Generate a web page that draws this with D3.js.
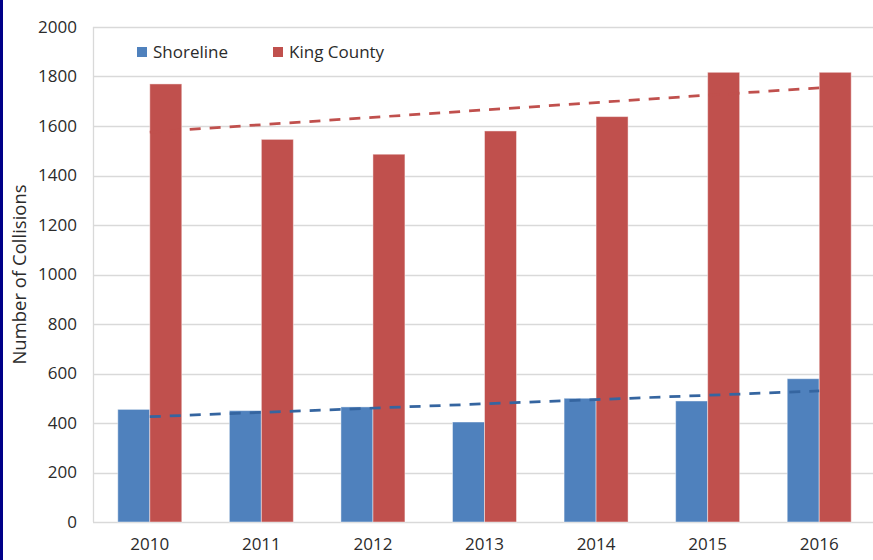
<!DOCTYPE html>
<html>
<head>
<meta charset="utf-8">
<script src="https://cdn.jsdelivr.net/npm/d3@7"></script>
<style>
  html, body { margin: 0; padding: 0; background: #fff; }
  svg { display: block; }
  text { font-family: "Open Sans", "Liberation Sans", sans-serif; fill: #2b2b2b; }
</style>
</head>
<body>
<script>
// Collision counts per year
const years = ["2010", "2011", "2012", "2013", "2014", "2015", "2016"];
const seriesNames = ["Shoreline", "King County"];
const shoreline = [455, 450, 465, 404, 500, 489, 579];
const kingCounty = [1770, 1546, 1486, 1580, 1638, 1817, 1817];
const yTicks = [0, 200, 400, 600, 800, 1000, 1200, 1400, 1600, 1800, 2000];
const colors = ["#4f81bd", "#c0504d"];
const trendColors = ["#3565a0", "#c0504d"];

const W = 873, H = 560;
const margin = { left: 94, right: -2, top: 27, bottom: 38 };

const svg = d3.select("body").append("svg")
  .attr("width", W).attr("height", H);

svg.append("rect").attr("width", W).attr("height", H).attr("fill", "#fff");
// navy frame strip on the left edge
svg.append("rect").attr("x", 0).attr("y", 0).attr("width", 3).attr("height", H).attr("fill", "#000088");

const x = d3.scaleBand()
  .domain(years)
  .range([margin.left, W - margin.right])
  .paddingInner(0.4264)
  .paddingOuter(0.2132);

const xs = d3.scaleBand().domain(seriesNames).range([0, x.bandwidth()]);

const y = d3.scaleLinear().domain([0, 2000]).range([H - margin.bottom, margin.top]);

// gridlines
svg.append("g")
  .selectAll("line")
  .data(yTicks)
  .join("line")
  .attr("x1", margin.left - 1)
  .attr("x2", W)
  .attr("y1", d => Math.round(y(d)) + 0.5)
  .attr("y2", d => Math.round(y(d)) + 0.5)
  .attr("stroke", "#d9d9d9")
  .attr("stroke-width", 1.3);

// value axis line
svg.append("line")
  .attr("x1", margin.left - 0.5).attr("x2", margin.left - 0.5)
  .attr("y1", y(2000)).attr("y2", y(0))
  .attr("stroke", "#d9d9d9").attr("stroke-width", 1.3);

// y axis labels
const yAxis = d3.axisLeft(y).tickValues(yTicks).tickFormat(d3.format("d"))
  .tickSize(0).tickPadding(17);
const gy = svg.append("g").attr("transform", `translate(${margin.left},0)`).call(yAxis);
gy.select(".domain").remove();
gy.selectAll("text").attr("font-size", 17).attr("fill", "#2b2b2b")
  .style("font-family", '"Open Sans", sans-serif');

// x axis labels
const xAxis = d3.axisBottom(x).tickSize(0).tickPadding(16);
const gx = svg.append("g").attr("transform", `translate(0,${y(0)})`).call(xAxis);
gx.select(".domain").remove();
gx.selectAll("text").attr("font-size", 17).attr("fill", "#2b2b2b")
  .style("font-family", '"Open Sans", sans-serif');

// bars
const data = [shoreline, kingCounty];
data.forEach((vals, si) => {
  svg.append("g")
    .selectAll("rect")
    .data(vals.map((v, i) => ({ year: years[i], v })))
    .join("rect")
    .attr("x", d => x(d.year) + xs(seriesNames[si]))
    .attr("y", d => y(d.v))
    .attr("width", xs.bandwidth())
    .attr("height", d => y(0) - y(d.v))
    .attr("fill", colors[si])
    .attr("stroke", "#fff")
    .attr("stroke-opacity", 0.45)
    .attr("stroke-width", 1);
});

// linear trendlines (least squares over category index)
function linearFit(vals) {
  const n = vals.length;
  const xsIdx = vals.map((_, i) => i + 1);
  const mx = d3.mean(xsIdx), my = d3.mean(vals);
  const slope = d3.sum(vals.map((v, i) => (xsIdx[i] - mx) * (v - my))) /
                d3.sum(xsIdx.map(k => (k - mx) * (k - mx)));
  const b = my - slope * mx;
  return [1, n].map(k => ({ idx: k - 1, v: b + slope * k }));
}
const line = d3.line()
  .x(d => x(years[d.idx]) + x.bandwidth() / 2)
  .y(d => y(d.v));

data.forEach((vals, si) => {
  svg.append("path")
    .attr("d", line(linearFit(vals)))
    .attr("fill", "none")
    .attr("stroke", trendColors[si])
    .attr("stroke-width", 2.75)
    .attr("stroke-dasharray", "11,9");
});

// legend
const legendItems = [
  { name: seriesNames[0], color: colors[0], x: 137 },
  { name: seriesNames[1], color: colors[1], x: 273 }
];
const lg = svg.append("g");
legendItems.forEach(it => {
  lg.append("rect")
    .attr("x", it.x).attr("y", 47)
    .attr("width", 10).attr("height", 10)
    .attr("fill", it.color);
  lg.append("text")
    .attr("x", it.x + 16).attr("y", 52)
    .attr("dy", "0.35em")
    .attr("font-size", 17)
    .text(it.name);
});

// y axis title
svg.append("text")
  .attr("transform", `translate(26,${(y(0) + y(2000)) / 2}) rotate(-90)`)
  .attr("text-anchor", "middle")
  .attr("font-size", 18.5)
  .text("Number of Collisions");
</script>
</body>
</html>
